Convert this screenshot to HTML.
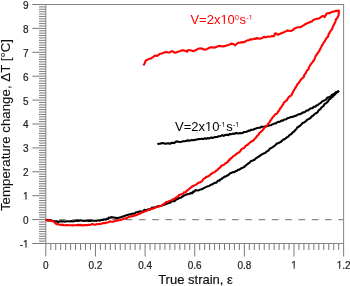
<!DOCTYPE html>
<html><head><meta charset="utf-8"><style>
html,body{margin:0;padding:0;background:#fff;}
svg{display:block;will-change:transform;}
text{font-family:"Liberation Sans",sans-serif;}
.tl{font-size:10px;fill:#222;stroke:#222;stroke-width:0.2px;}
.al{font-size:13px;fill:#111;stroke:#111;stroke-width:0.2px;}
.yl{font-size:13.3px;fill:#111;stroke:#111;stroke-width:0.1px;}
.an{font-size:13px;}
.sup{font-size:7px;}
.sup0{font-size:7.6px;}
</style></head><body>
<svg width="350" height="286" viewBox="0 0 350 286">
<line x1="32.3" y1="243.50" x2="45.8" y2="243.50" stroke="#7a7a7a" stroke-width="1"/>
<line x1="39" y1="241.11" x2="45.8" y2="241.11" stroke="#7a7a7a" stroke-width="1"/>
<line x1="39" y1="238.72" x2="45.8" y2="238.72" stroke="#7a7a7a" stroke-width="1"/>
<line x1="39" y1="236.33" x2="45.8" y2="236.33" stroke="#7a7a7a" stroke-width="1"/>
<line x1="39" y1="233.94" x2="45.8" y2="233.94" stroke="#7a7a7a" stroke-width="1"/>
<line x1="39" y1="231.55" x2="45.8" y2="231.55" stroke="#7a7a7a" stroke-width="1"/>
<line x1="39" y1="229.16" x2="45.8" y2="229.16" stroke="#7a7a7a" stroke-width="1"/>
<line x1="39" y1="226.77" x2="45.8" y2="226.77" stroke="#7a7a7a" stroke-width="1"/>
<line x1="39" y1="224.38" x2="45.8" y2="224.38" stroke="#7a7a7a" stroke-width="1"/>
<line x1="39" y1="221.99" x2="45.8" y2="221.99" stroke="#7a7a7a" stroke-width="1"/>
<line x1="32.3" y1="219.60" x2="45.8" y2="219.60" stroke="#7a7a7a" stroke-width="1"/>
<line x1="39" y1="217.21" x2="45.8" y2="217.21" stroke="#7a7a7a" stroke-width="1"/>
<line x1="39" y1="214.82" x2="45.8" y2="214.82" stroke="#7a7a7a" stroke-width="1"/>
<line x1="39" y1="212.43" x2="45.8" y2="212.43" stroke="#7a7a7a" stroke-width="1"/>
<line x1="39" y1="210.04" x2="45.8" y2="210.04" stroke="#7a7a7a" stroke-width="1"/>
<line x1="39" y1="207.65" x2="45.8" y2="207.65" stroke="#7a7a7a" stroke-width="1"/>
<line x1="39" y1="205.26" x2="45.8" y2="205.26" stroke="#7a7a7a" stroke-width="1"/>
<line x1="39" y1="202.87" x2="45.8" y2="202.87" stroke="#7a7a7a" stroke-width="1"/>
<line x1="39" y1="200.48" x2="45.8" y2="200.48" stroke="#7a7a7a" stroke-width="1"/>
<line x1="39" y1="198.09" x2="45.8" y2="198.09" stroke="#7a7a7a" stroke-width="1"/>
<line x1="32.3" y1="195.70" x2="45.8" y2="195.70" stroke="#7a7a7a" stroke-width="1"/>
<line x1="39" y1="193.31" x2="45.8" y2="193.31" stroke="#7a7a7a" stroke-width="1"/>
<line x1="39" y1="190.92" x2="45.8" y2="190.92" stroke="#7a7a7a" stroke-width="1"/>
<line x1="39" y1="188.53" x2="45.8" y2="188.53" stroke="#7a7a7a" stroke-width="1"/>
<line x1="39" y1="186.14" x2="45.8" y2="186.14" stroke="#7a7a7a" stroke-width="1"/>
<line x1="39" y1="183.75" x2="45.8" y2="183.75" stroke="#7a7a7a" stroke-width="1"/>
<line x1="39" y1="181.36" x2="45.8" y2="181.36" stroke="#7a7a7a" stroke-width="1"/>
<line x1="39" y1="178.97" x2="45.8" y2="178.97" stroke="#7a7a7a" stroke-width="1"/>
<line x1="39" y1="176.58" x2="45.8" y2="176.58" stroke="#7a7a7a" stroke-width="1"/>
<line x1="39" y1="174.19" x2="45.8" y2="174.19" stroke="#7a7a7a" stroke-width="1"/>
<line x1="32.3" y1="171.80" x2="45.8" y2="171.80" stroke="#7a7a7a" stroke-width="1"/>
<line x1="39" y1="169.41" x2="45.8" y2="169.41" stroke="#7a7a7a" stroke-width="1"/>
<line x1="39" y1="167.02" x2="45.8" y2="167.02" stroke="#7a7a7a" stroke-width="1"/>
<line x1="39" y1="164.63" x2="45.8" y2="164.63" stroke="#7a7a7a" stroke-width="1"/>
<line x1="39" y1="162.24" x2="45.8" y2="162.24" stroke="#7a7a7a" stroke-width="1"/>
<line x1="39" y1="159.85" x2="45.8" y2="159.85" stroke="#7a7a7a" stroke-width="1"/>
<line x1="39" y1="157.46" x2="45.8" y2="157.46" stroke="#7a7a7a" stroke-width="1"/>
<line x1="39" y1="155.07" x2="45.8" y2="155.07" stroke="#7a7a7a" stroke-width="1"/>
<line x1="39" y1="152.68" x2="45.8" y2="152.68" stroke="#7a7a7a" stroke-width="1"/>
<line x1="39" y1="150.29" x2="45.8" y2="150.29" stroke="#7a7a7a" stroke-width="1"/>
<line x1="32.3" y1="147.90" x2="45.8" y2="147.90" stroke="#7a7a7a" stroke-width="1"/>
<line x1="39" y1="145.51" x2="45.8" y2="145.51" stroke="#7a7a7a" stroke-width="1"/>
<line x1="39" y1="143.12" x2="45.8" y2="143.12" stroke="#7a7a7a" stroke-width="1"/>
<line x1="39" y1="140.73" x2="45.8" y2="140.73" stroke="#7a7a7a" stroke-width="1"/>
<line x1="39" y1="138.34" x2="45.8" y2="138.34" stroke="#7a7a7a" stroke-width="1"/>
<line x1="39" y1="135.95" x2="45.8" y2="135.95" stroke="#7a7a7a" stroke-width="1"/>
<line x1="39" y1="133.56" x2="45.8" y2="133.56" stroke="#7a7a7a" stroke-width="1"/>
<line x1="39" y1="131.17" x2="45.8" y2="131.17" stroke="#7a7a7a" stroke-width="1"/>
<line x1="39" y1="128.78" x2="45.8" y2="128.78" stroke="#7a7a7a" stroke-width="1"/>
<line x1="39" y1="126.39" x2="45.8" y2="126.39" stroke="#7a7a7a" stroke-width="1"/>
<line x1="32.3" y1="124.00" x2="45.8" y2="124.00" stroke="#7a7a7a" stroke-width="1"/>
<line x1="39" y1="121.61" x2="45.8" y2="121.61" stroke="#7a7a7a" stroke-width="1"/>
<line x1="39" y1="119.22" x2="45.8" y2="119.22" stroke="#7a7a7a" stroke-width="1"/>
<line x1="39" y1="116.83" x2="45.8" y2="116.83" stroke="#7a7a7a" stroke-width="1"/>
<line x1="39" y1="114.44" x2="45.8" y2="114.44" stroke="#7a7a7a" stroke-width="1"/>
<line x1="39" y1="112.05" x2="45.8" y2="112.05" stroke="#7a7a7a" stroke-width="1"/>
<line x1="39" y1="109.66" x2="45.8" y2="109.66" stroke="#7a7a7a" stroke-width="1"/>
<line x1="39" y1="107.27" x2="45.8" y2="107.27" stroke="#7a7a7a" stroke-width="1"/>
<line x1="39" y1="104.88" x2="45.8" y2="104.88" stroke="#7a7a7a" stroke-width="1"/>
<line x1="39" y1="102.49" x2="45.8" y2="102.49" stroke="#7a7a7a" stroke-width="1"/>
<line x1="32.3" y1="100.10" x2="45.8" y2="100.10" stroke="#7a7a7a" stroke-width="1"/>
<line x1="39" y1="97.71" x2="45.8" y2="97.71" stroke="#7a7a7a" stroke-width="1"/>
<line x1="39" y1="95.32" x2="45.8" y2="95.32" stroke="#7a7a7a" stroke-width="1"/>
<line x1="39" y1="92.93" x2="45.8" y2="92.93" stroke="#7a7a7a" stroke-width="1"/>
<line x1="39" y1="90.54" x2="45.8" y2="90.54" stroke="#7a7a7a" stroke-width="1"/>
<line x1="39" y1="88.15" x2="45.8" y2="88.15" stroke="#7a7a7a" stroke-width="1"/>
<line x1="39" y1="85.76" x2="45.8" y2="85.76" stroke="#7a7a7a" stroke-width="1"/>
<line x1="39" y1="83.37" x2="45.8" y2="83.37" stroke="#7a7a7a" stroke-width="1"/>
<line x1="39" y1="80.98" x2="45.8" y2="80.98" stroke="#7a7a7a" stroke-width="1"/>
<line x1="39" y1="78.59" x2="45.8" y2="78.59" stroke="#7a7a7a" stroke-width="1"/>
<line x1="32.3" y1="76.20" x2="45.8" y2="76.20" stroke="#7a7a7a" stroke-width="1"/>
<line x1="39" y1="73.81" x2="45.8" y2="73.81" stroke="#7a7a7a" stroke-width="1"/>
<line x1="39" y1="71.42" x2="45.8" y2="71.42" stroke="#7a7a7a" stroke-width="1"/>
<line x1="39" y1="69.03" x2="45.8" y2="69.03" stroke="#7a7a7a" stroke-width="1"/>
<line x1="39" y1="66.64" x2="45.8" y2="66.64" stroke="#7a7a7a" stroke-width="1"/>
<line x1="39" y1="64.25" x2="45.8" y2="64.25" stroke="#7a7a7a" stroke-width="1"/>
<line x1="39" y1="61.86" x2="45.8" y2="61.86" stroke="#7a7a7a" stroke-width="1"/>
<line x1="39" y1="59.47" x2="45.8" y2="59.47" stroke="#7a7a7a" stroke-width="1"/>
<line x1="39" y1="57.08" x2="45.8" y2="57.08" stroke="#7a7a7a" stroke-width="1"/>
<line x1="39" y1="54.69" x2="45.8" y2="54.69" stroke="#7a7a7a" stroke-width="1"/>
<line x1="32.3" y1="52.30" x2="45.8" y2="52.30" stroke="#7a7a7a" stroke-width="1"/>
<line x1="39" y1="49.91" x2="45.8" y2="49.91" stroke="#7a7a7a" stroke-width="1"/>
<line x1="39" y1="47.52" x2="45.8" y2="47.52" stroke="#7a7a7a" stroke-width="1"/>
<line x1="39" y1="45.13" x2="45.8" y2="45.13" stroke="#7a7a7a" stroke-width="1"/>
<line x1="39" y1="42.74" x2="45.8" y2="42.74" stroke="#7a7a7a" stroke-width="1"/>
<line x1="39" y1="40.35" x2="45.8" y2="40.35" stroke="#7a7a7a" stroke-width="1"/>
<line x1="39" y1="37.96" x2="45.8" y2="37.96" stroke="#7a7a7a" stroke-width="1"/>
<line x1="39" y1="35.57" x2="45.8" y2="35.57" stroke="#7a7a7a" stroke-width="1"/>
<line x1="39" y1="33.18" x2="45.8" y2="33.18" stroke="#7a7a7a" stroke-width="1"/>
<line x1="39" y1="30.79" x2="45.8" y2="30.79" stroke="#7a7a7a" stroke-width="1"/>
<line x1="32.3" y1="28.40" x2="45.8" y2="28.40" stroke="#7a7a7a" stroke-width="1"/>
<line x1="39" y1="26.01" x2="45.8" y2="26.01" stroke="#7a7a7a" stroke-width="1"/>
<line x1="39" y1="23.62" x2="45.8" y2="23.62" stroke="#7a7a7a" stroke-width="1"/>
<line x1="39" y1="21.23" x2="45.8" y2="21.23" stroke="#7a7a7a" stroke-width="1"/>
<line x1="39" y1="18.84" x2="45.8" y2="18.84" stroke="#7a7a7a" stroke-width="1"/>
<line x1="39" y1="16.45" x2="45.8" y2="16.45" stroke="#7a7a7a" stroke-width="1"/>
<line x1="39" y1="14.06" x2="45.8" y2="14.06" stroke="#7a7a7a" stroke-width="1"/>
<line x1="39" y1="11.67" x2="45.8" y2="11.67" stroke="#7a7a7a" stroke-width="1"/>
<line x1="39" y1="9.28" x2="45.8" y2="9.28" stroke="#7a7a7a" stroke-width="1"/>
<line x1="39" y1="6.89" x2="45.8" y2="6.89" stroke="#7a7a7a" stroke-width="1"/>
<line x1="32.3" y1="4.50" x2="45.8" y2="4.50" stroke="#7a7a7a" stroke-width="1"/>
<line x1="45.80" y1="243.5" x2="45.80" y2="256.5" stroke="#7a7a7a" stroke-width="1"/>
<line x1="50.76" y1="243.5" x2="50.76" y2="250" stroke="#7a7a7a" stroke-width="1"/>
<line x1="55.73" y1="243.5" x2="55.73" y2="250" stroke="#7a7a7a" stroke-width="1"/>
<line x1="60.69" y1="243.5" x2="60.69" y2="250" stroke="#7a7a7a" stroke-width="1"/>
<line x1="65.66" y1="243.5" x2="65.66" y2="250" stroke="#7a7a7a" stroke-width="1"/>
<line x1="70.62" y1="243.5" x2="70.62" y2="250" stroke="#7a7a7a" stroke-width="1"/>
<line x1="75.58" y1="243.5" x2="75.58" y2="250" stroke="#7a7a7a" stroke-width="1"/>
<line x1="80.55" y1="243.5" x2="80.55" y2="250" stroke="#7a7a7a" stroke-width="1"/>
<line x1="85.51" y1="243.5" x2="85.51" y2="250" stroke="#7a7a7a" stroke-width="1"/>
<line x1="90.48" y1="243.5" x2="90.48" y2="250" stroke="#7a7a7a" stroke-width="1"/>
<line x1="95.44" y1="243.5" x2="95.44" y2="256.5" stroke="#7a7a7a" stroke-width="1"/>
<line x1="100.40" y1="243.5" x2="100.40" y2="250" stroke="#7a7a7a" stroke-width="1"/>
<line x1="105.37" y1="243.5" x2="105.37" y2="250" stroke="#7a7a7a" stroke-width="1"/>
<line x1="110.33" y1="243.5" x2="110.33" y2="250" stroke="#7a7a7a" stroke-width="1"/>
<line x1="115.30" y1="243.5" x2="115.30" y2="250" stroke="#7a7a7a" stroke-width="1"/>
<line x1="120.26" y1="243.5" x2="120.26" y2="250" stroke="#7a7a7a" stroke-width="1"/>
<line x1="125.22" y1="243.5" x2="125.22" y2="250" stroke="#7a7a7a" stroke-width="1"/>
<line x1="130.19" y1="243.5" x2="130.19" y2="250" stroke="#7a7a7a" stroke-width="1"/>
<line x1="135.15" y1="243.5" x2="135.15" y2="250" stroke="#7a7a7a" stroke-width="1"/>
<line x1="140.12" y1="243.5" x2="140.12" y2="250" stroke="#7a7a7a" stroke-width="1"/>
<line x1="145.08" y1="243.5" x2="145.08" y2="256.5" stroke="#7a7a7a" stroke-width="1"/>
<line x1="150.04" y1="243.5" x2="150.04" y2="250" stroke="#7a7a7a" stroke-width="1"/>
<line x1="155.01" y1="243.5" x2="155.01" y2="250" stroke="#7a7a7a" stroke-width="1"/>
<line x1="159.97" y1="243.5" x2="159.97" y2="250" stroke="#7a7a7a" stroke-width="1"/>
<line x1="164.94" y1="243.5" x2="164.94" y2="250" stroke="#7a7a7a" stroke-width="1"/>
<line x1="169.90" y1="243.5" x2="169.90" y2="250" stroke="#7a7a7a" stroke-width="1"/>
<line x1="174.86" y1="243.5" x2="174.86" y2="250" stroke="#7a7a7a" stroke-width="1"/>
<line x1="179.83" y1="243.5" x2="179.83" y2="250" stroke="#7a7a7a" stroke-width="1"/>
<line x1="184.79" y1="243.5" x2="184.79" y2="250" stroke="#7a7a7a" stroke-width="1"/>
<line x1="189.76" y1="243.5" x2="189.76" y2="250" stroke="#7a7a7a" stroke-width="1"/>
<line x1="194.72" y1="243.5" x2="194.72" y2="256.5" stroke="#7a7a7a" stroke-width="1"/>
<line x1="199.68" y1="243.5" x2="199.68" y2="250" stroke="#7a7a7a" stroke-width="1"/>
<line x1="204.65" y1="243.5" x2="204.65" y2="250" stroke="#7a7a7a" stroke-width="1"/>
<line x1="209.61" y1="243.5" x2="209.61" y2="250" stroke="#7a7a7a" stroke-width="1"/>
<line x1="214.58" y1="243.5" x2="214.58" y2="250" stroke="#7a7a7a" stroke-width="1"/>
<line x1="219.54" y1="243.5" x2="219.54" y2="250" stroke="#7a7a7a" stroke-width="1"/>
<line x1="224.50" y1="243.5" x2="224.50" y2="250" stroke="#7a7a7a" stroke-width="1"/>
<line x1="229.47" y1="243.5" x2="229.47" y2="250" stroke="#7a7a7a" stroke-width="1"/>
<line x1="234.43" y1="243.5" x2="234.43" y2="250" stroke="#7a7a7a" stroke-width="1"/>
<line x1="239.40" y1="243.5" x2="239.40" y2="250" stroke="#7a7a7a" stroke-width="1"/>
<line x1="244.36" y1="243.5" x2="244.36" y2="256.5" stroke="#7a7a7a" stroke-width="1"/>
<line x1="249.32" y1="243.5" x2="249.32" y2="250" stroke="#7a7a7a" stroke-width="1"/>
<line x1="254.29" y1="243.5" x2="254.29" y2="250" stroke="#7a7a7a" stroke-width="1"/>
<line x1="259.25" y1="243.5" x2="259.25" y2="250" stroke="#7a7a7a" stroke-width="1"/>
<line x1="264.22" y1="243.5" x2="264.22" y2="250" stroke="#7a7a7a" stroke-width="1"/>
<line x1="269.18" y1="243.5" x2="269.18" y2="250" stroke="#7a7a7a" stroke-width="1"/>
<line x1="274.14" y1="243.5" x2="274.14" y2="250" stroke="#7a7a7a" stroke-width="1"/>
<line x1="279.11" y1="243.5" x2="279.11" y2="250" stroke="#7a7a7a" stroke-width="1"/>
<line x1="284.07" y1="243.5" x2="284.07" y2="250" stroke="#7a7a7a" stroke-width="1"/>
<line x1="289.04" y1="243.5" x2="289.04" y2="250" stroke="#7a7a7a" stroke-width="1"/>
<line x1="294.00" y1="243.5" x2="294.00" y2="256.5" stroke="#7a7a7a" stroke-width="1"/>
<line x1="298.96" y1="243.5" x2="298.96" y2="250" stroke="#7a7a7a" stroke-width="1"/>
<line x1="303.93" y1="243.5" x2="303.93" y2="250" stroke="#7a7a7a" stroke-width="1"/>
<line x1="308.89" y1="243.5" x2="308.89" y2="250" stroke="#7a7a7a" stroke-width="1"/>
<line x1="313.86" y1="243.5" x2="313.86" y2="250" stroke="#7a7a7a" stroke-width="1"/>
<line x1="318.82" y1="243.5" x2="318.82" y2="250" stroke="#7a7a7a" stroke-width="1"/>
<line x1="323.78" y1="243.5" x2="323.78" y2="250" stroke="#7a7a7a" stroke-width="1"/>
<line x1="328.75" y1="243.5" x2="328.75" y2="250" stroke="#7a7a7a" stroke-width="1"/>
<line x1="333.71" y1="243.5" x2="333.71" y2="250" stroke="#7a7a7a" stroke-width="1"/>
<line x1="338.68" y1="243.5" x2="338.68" y2="250" stroke="#7a7a7a" stroke-width="1"/>
<line x1="343.64" y1="243.5" x2="343.64" y2="256.5" stroke="#7a7a7a" stroke-width="1"/>
<rect x="45.8" y="4.5" width="297.80" height="239.00" fill="none" stroke="#838383" stroke-width="1"/>
<line x1="45.80" y1="219.60" x2="343.64" y2="219.60" stroke="#8a8a8a" stroke-width="1.2" stroke-dasharray="6.65 6.65"/>
<polyline points="45.7,219.7 47.0,219.9 48.2,220.5 49.6,220.0 50.9,220.5 52.3,221.1 53.9,221.0 55.4,221.4 56.8,221.3 58.2,222.0 59.7,221.4 61.1,221.4 62.5,221.3 64.0,221.5 65.5,221.6 66.9,221.2 68.3,221.2 69.7,221.5 71.2,221.1 72.6,221.4 74.0,221.2 75.4,221.0 76.8,220.6 78.3,220.9 79.7,220.4 81.2,220.4 82.6,220.8 84.0,220.9 85.5,220.8 87.1,220.8 88.6,220.9 90.0,220.9 91.3,220.4 92.6,220.8 94.0,220.8 95.2,220.8 96.4,220.9 97.6,220.4 98.8,220.5 100.0,220.6 101.3,219.8 102.8,220.0 104.2,219.3 105.7,219.7 106.7,218.8 108.1,219.0 108.8,217.5 110.4,217.8 111.4,217.1 112.8,217.4 114.3,217.5 115.7,217.9 117.1,218.0 118.6,217.8 120.1,217.6 121.4,216.9 122.9,216.6 125.0,215.8 126.2,215.3 127.5,215.0 128.7,214.5 130.0,214.5 131.2,214.1 132.4,213.6 133.8,213.8 135.0,213.1 136.1,212.2 137.5,212.1 138.8,211.9 140.0,211.2 141.4,211.5 143.1,211.6 144.3,209.9 146.0,210.2 147.2,209.7 148.5,209.2 150.0,209.5 151.1,208.6 152.1,207.6 153.6,208.1 154.7,207.2 156.0,207.0 157.3,206.6 158.6,206.1 160.0,206.0 161.5,205.8 162.8,204.9 164.4,204.8 165.8,204.1 167.3,203.6 168.7,202.9 170.4,202.8 171.4,201.1 173.1,201.2 174.4,201.1 175.4,200.4 176.3,199.4 177.5,199.0 178.6,198.5 179.6,197.8 181.0,197.8 181.9,196.8 183.0,196.3 184.0,195.6 185.1,195.1 186.2,194.6 187.5,194.2 188.7,193.9 190.0,193.7 191.0,192.9 192.5,193.2 193.1,191.6 194.4,191.6 195.5,190.1 197.3,190.6 198.7,190.2 200.2,189.6 201.7,189.2 203.1,188.5 204.2,187.9 205.3,187.4 206.4,186.9 207.5,186.3 209.1,186.0 210.4,185.0 211.9,184.5 213.4,183.6 215.0,182.8 216.4,182.6 217.2,181.6 218.0,180.5 219.5,180.7 220.2,179.4 221.5,179.0 222.4,178.0 223.7,177.5 224.6,176.6 225.9,176.5 226.9,175.6 228.1,175.3 229.1,174.2 230.2,173.3 231.6,172.7 232.9,172.1 234.4,172.1 235.5,171.2 236.9,170.9 237.8,169.9 239.2,169.8 240.1,169.0 241.2,168.3 242.6,167.8 243.9,167.1 245.0,166.1 246.4,165.0 247.8,163.9 248.8,163.1 249.9,162.3 250.7,161.2 252.0,160.7 253.3,160.2 254.5,159.7 255.5,158.6 256.7,157.9 257.8,157.1 259.0,156.5 260.1,155.6 261.2,154.7 262.5,154.1 263.7,153.4 265.0,153.1 265.9,152.3 266.9,151.4 268.0,150.9 269.1,149.8 270.0,148.5 271.5,147.9 272.7,147.2 273.8,146.3 275.0,145.5 276.0,144.4 277.0,143.4 278.5,143.2 279.7,142.4 281.0,141.8 282.0,140.7 283.1,139.8 284.3,139.2 285.5,138.6 286.6,137.5 288.0,136.9 289.0,135.8 289.8,134.7 291.2,134.3 292.0,133.2 292.9,132.2 294.2,131.5 295.0,130.3 295.9,129.5 296.7,128.6 297.3,127.5 298.4,126.9 299.3,126.1 300.4,125.5 301.2,124.6 302.0,123.7 302.9,122.8 304.1,122.4 305.2,121.8 306.0,120.9 306.9,120.1 307.9,119.4 309.0,118.8 310.2,118.2 311.1,117.3 311.8,116.2 313.1,115.7 313.9,114.7 314.9,113.8 316.0,113.2 317.2,112.6 318.0,111.6 318.5,110.4 319.6,109.7 320.6,108.9 321.2,107.7 322.2,107.0 323.3,106.2 324.0,105.2 324.6,103.9 326.0,103.3 327.0,102.5 327.9,101.5 328.7,100.4 329.3,99.2 330.5,98.7 331.2,97.6 332.3,97.0 333.1,96.0 334.3,95.1 335.3,94.0 336.2,92.8 337.5,92.0 338.9,90.7" fill="none" stroke="#000" stroke-width="2.1" stroke-linejoin="round"/>
<polyline points="157.4,144.2 158.7,143.7 160.1,143.8 161.4,143.2 162.8,143.0 164.2,143.5 165.7,143.6 167.1,143.5 168.5,143.2 170.1,143.8 171.5,142.9 172.9,142.7 174.4,143.1 175.7,141.7 177.1,141.4 178.6,141.8 180.1,142.0 181.5,141.7 182.9,141.3 184.3,141.3 185.7,141.1 187.1,140.4 188.6,140.6 190.0,140.6 191.2,140.1 192.5,140.1 193.8,140.3 195.0,139.8 196.3,139.7 197.5,139.2 198.7,139.1 200.0,139.0 201.3,138.9 202.5,138.7 203.8,139.0 205.0,138.2 206.3,138.9 207.5,138.0 208.8,138.4 210.0,138.0 211.2,137.5 212.6,138.0 213.8,137.4 215.0,137.1 216.3,137.0 217.5,136.9 218.7,136.2 220.0,136.2 221.2,135.7 222.3,135.1 223.7,135.9 224.8,135.1 226.0,134.9 227.3,134.8 228.6,135.2 229.6,133.9 230.9,134.2 232.1,133.9 233.4,133.6 234.7,133.8 236.0,133.0 237.4,133.2 238.7,133.5 240.0,133.1 241.4,133.3 242.7,133.0 243.8,132.0 245.2,132.0 246.4,131.7 247.6,131.3 248.7,130.6 250.0,130.7 251.3,129.7 253.0,129.8 254.4,129.0 255.9,128.6 257.3,128.1 258.7,127.7 260.2,127.7 261.6,126.7 263.1,126.7 264.6,126.6 266.0,126.2 267.5,125.9 268.8,125.5 270.2,125.2 271.4,124.9 272.5,124.3 273.6,123.9 274.8,123.4 276.1,123.4 277.0,122.4 278.1,121.9 279.4,121.9 280.5,121.3 281.5,120.6 282.8,120.6 283.8,119.7 285.0,119.5 286.3,119.3 287.3,118.3 288.5,117.9 289.8,117.6 291.0,117.0 292.4,116.9 293.7,116.5 295.0,115.9 296.3,115.7 297.3,114.9 298.4,114.3 299.7,114.3 300.9,113.7 302.0,113.2 303.0,112.4 304.5,112.3 305.5,111.5 306.5,110.6 307.9,110.4 309.0,109.7 310.0,108.8 311.2,108.3 312.6,108.1 313.5,106.9 314.8,106.8 316.0,106.2 316.8,105.2 318.1,105.0 318.9,103.9 320.0,103.4 321.1,102.7 321.9,101.5 323.2,101.1 324.4,100.4 325.6,99.9 326.6,99.0 327.3,97.6 328.7,97.3 330.0,96.8 331.1,96.0 331.9,94.9 333.1,94.2 334.5,93.9 335.3,92.5 336.6,92.1 337.9,91.7 338.9,90.7" fill="none" stroke="#000" stroke-width="2.1" stroke-linejoin="round"/>
<polyline points="45.7,219.7 46.9,220.4 48.2,220.7 49.7,220.3 50.9,220.9 52.8,220.9 54.3,222.0 55.4,223.2 56.6,224.3 58.2,224.1 59.6,224.7 61.1,224.9 62.6,224.6 64.0,225.3 65.4,225.3 66.9,225.1 68.3,225.3 69.7,225.3 71.2,225.3 72.6,225.4 74.0,225.2 75.5,225.3 76.9,225.1 78.3,224.9 79.7,225.1 81.2,224.9 82.6,225.6 84.0,225.1 85.5,225.1 87.1,225.3 88.6,224.7 90.0,225.0 91.3,224.3 92.6,224.0 94.0,224.4 95.2,224.7 96.4,224.1 97.6,224.2 98.8,224.0 100.0,224.0 101.4,223.8 102.8,223.1 104.3,223.1 105.7,222.9 107.1,222.5 108.5,222.3 109.8,221.3 111.4,221.7 112.9,221.7 114.3,221.3 115.6,220.5 117.1,220.8 118.2,220.3 119.4,220.2 120.6,220.0 121.7,219.5 122.9,219.2 125.0,218.4 126.4,218.4 127.5,217.6 128.7,216.9 130.0,216.8 131.2,216.3 132.6,216.3 133.7,215.6 135.0,215.4 136.4,215.1 137.7,214.6 138.9,214.0 140.2,213.6 141.4,212.8 142.5,212.3 143.7,211.9 144.8,211.4 146.0,211.1 147.1,210.5 148.1,209.9 149.4,209.7 150.5,209.2 151.6,208.7 152.9,208.7 154.5,208.0 156.0,207.3 157.4,207.0 158.6,206.4 160.0,206.1 161.3,205.8 162.3,205.0 163.5,204.4 164.4,203.5 165.4,202.8 166.3,202.0 167.7,202.0 168.7,201.3 169.8,200.9 171.0,200.4 172.1,199.8 173.1,199.2 174.4,198.9 175.3,197.8 176.5,197.4 177.5,196.6 178.5,195.7 179.3,194.7 180.7,194.5 181.9,194.0 183.2,193.8 183.8,192.4 185.3,192.5 186.2,191.6 187.0,190.6 188.0,189.8 189.1,189.0 190.0,188.1 191.1,187.5 192.0,186.5 193.3,186.1 194.4,185.4 195.5,184.9 196.7,184.3 197.5,183.3 198.7,182.8 200.1,182.3 201.2,181.6 202.4,180.8 203.1,179.4 204.0,178.4 205.3,178.1 206.1,176.9 207.5,176.7 208.7,176.0 209.8,175.3 210.6,174.2 211.9,173.7 212.7,172.7 214.0,172.5 215.0,171.8 216.4,170.6 217.6,169.9 218.4,168.7 219.6,167.9 220.7,167.1 221.3,165.7 222.8,165.2 224.0,164.6 225.1,163.7 226.2,162.9 227.6,162.3 228.2,160.8 229.5,160.2 229.8,158.8 231.3,158.4 232.0,157.4 233.0,156.4 234.3,155.7 235.4,154.9 236.4,153.9 237.6,153.2 238.8,152.5 239.9,151.6 240.7,150.4 241.5,149.1 242.9,148.4 244.4,147.9 245.1,146.5 246.1,145.5 247.5,145.0 248.4,143.9 249.5,143.0 250.7,142.0 252.0,141.2 253.5,140.5 254.4,139.0 255.7,138.0 256.6,136.6 257.5,135.5 258.7,134.7 259.2,133.2 260.5,132.4 261.2,131.3 262.5,130.6 263.1,129.5 264.0,128.5 264.6,127.4 265.8,126.9 266.6,125.9 267.5,124.8 268.3,123.5 269.6,122.3 270.2,120.6 271.3,119.7 271.9,118.4 272.7,117.3 273.7,116.3 274.5,115.3 275.4,114.3 276.7,113.7 277.6,112.7 278.1,111.4 279.2,110.6 279.7,109.4 280.2,108.3 281.3,107.4 281.7,106.2 282.5,105.2 283.4,104.1 283.8,102.6 285.0,101.8 285.8,100.8 287.0,100.2 287.6,99.0 288.2,97.8 288.9,96.8 290.0,96.1 291.2,95.5 291.9,94.4 292.4,93.2 293.0,92.0 293.6,90.8 294.4,89.7 294.8,88.5 295.7,87.5 296.4,86.3 297.0,85.3 297.4,84.1 298.4,83.3 299.1,82.3 299.9,81.4 300.4,80.3 301.1,79.3 302.1,78.5 303.0,77.6 304.0,76.7 304.1,75.3 304.7,74.2 305.7,73.3 306.2,72.1 306.7,70.9 307.6,70.0 308.7,69.1 308.7,67.6 309.5,66.5 310.2,65.3 310.9,64.1 311.7,63.1 312.5,62.0 313.3,61.0 314.2,60.0 314.6,58.8 315.1,57.6 315.4,56.3 316.4,55.4 316.8,54.2 317.7,53.2 318.4,51.9 319.4,50.8 319.9,49.5 320.6,48.2 321.3,46.9 321.9,45.5 322.8,44.3 323.5,43.0 324.4,41.7 325.3,40.4 325.8,39.0 326.7,37.9 327.8,36.9 328.4,35.5 328.6,34.0 329.5,33.0 330.0,31.7 330.9,30.6 331.9,29.6 332.3,28.2 332.8,27.0 333.3,25.7 334.0,24.6 334.6,23.3 335.2,22.1 335.7,20.9 335.9,19.4 337.0,18.5 337.6,17.2 338.4,15.7 338.8,14.1 338.7,12.8 339.4,11.7" fill="none" stroke="#f00" stroke-width="2.1" stroke-linejoin="round"/>
<polyline points="143.3,65.4 144.1,64.4 144.7,63.2 145.1,62.0 145.9,60.5 147.4,59.7 148.7,59.1 150.0,58.7 151.4,58.3 152.3,57.4 153.4,56.9 154.3,56.0 155.7,55.6 157.1,56.0 158.0,55.2 159.1,54.5 160.0,53.7 161.5,53.6 162.9,53.1 164.3,52.6 165.7,52.0 167.2,52.2 168.6,52.6 170.1,52.2 171.4,51.4 173.1,51.4 174.3,52.6 175.8,52.6 177.1,52.0 178.5,51.5 180.0,51.2 181.6,50.4 183.4,50.3 184.6,50.7 186.0,50.9 186.9,51.9 187.6,50.5 189.1,50.0 190.3,50.3 191.5,50.5 192.6,51.1 194.4,50.8 196.0,50.0 197.2,49.3 198.5,48.6 200.0,48.5 201.5,48.4 202.9,48.9 204.5,49.7 206.3,49.4 207.5,48.9 208.5,48.2 209.6,47.6 210.9,47.4 212.6,47.2 214.3,47.7 215.4,47.2 216.6,46.9 217.7,46.3 220.0,45.9 221.5,46.3 223.1,46.4 224.6,46.1 226.0,45.8 227.2,45.2 228.6,45.0 229.9,44.4 231.1,43.6 232.6,43.9 233.9,44.3 234.9,45.3 236.1,44.5 237.1,43.5 238.3,42.7 239.8,42.7 241.3,42.1 242.9,42.4 244.1,42.1 245.2,41.5 246.3,40.9 247.4,40.4 249.0,40.3 250.4,39.2 252.0,39.6 253.1,39.1 254.2,38.6 255.6,39.0 256.6,38.1 258.3,38.4 260.0,38.8 261.1,38.2 262.4,38.1 263.3,37.1 264.6,36.9 266.1,37.3 267.6,36.6 269.1,36.7 270.6,36.5 272.1,36.0 273.7,36.1 274.7,35.3 274.7,33.8 276.0,33.3 277.0,34.2 278.3,34.7 279.4,34.0 280.6,33.7 281.6,32.9 282.9,32.7 284.1,32.2 285.2,31.6 286.4,31.1 287.4,30.4 289.1,30.8 290.9,31.0 292.1,30.4 293.3,29.8 294.2,28.7 295.4,28.1 296.9,27.5 298.4,27.2 300.0,27.3 301.4,26.7 302.5,25.7 304.0,25.3 305.1,24.3 306.4,23.7 307.6,22.7 309.1,22.6 310.3,21.7 311.8,21.6 312.8,20.4 314.0,19.6 315.4,19.2 316.7,18.7 318.0,18.8 319.4,18.3 320.5,17.4 321.6,16.5 322.9,16.0 324.7,17.0 325.2,15.8 326.1,14.8 326.6,13.5 327.8,13.3 329.0,13.1 330.2,12.9 331.4,12.3 332.6,11.8 333.9,11.6 335.1,11.1 336.3,10.9 337.6,10.9 338.8,10.5 339.4,11.7" fill="none" stroke="#f00" stroke-width="2.1" stroke-linejoin="round"/>
<text x="28.6" y="247.90" text-anchor="end" class="tl">-1</text>
<text x="28.6" y="224.00" text-anchor="end" class="tl">0</text>
<text x="28.6" y="200.10" text-anchor="end" class="tl">1</text>
<text x="28.6" y="176.20" text-anchor="end" class="tl">2</text>
<text x="28.6" y="152.30" text-anchor="end" class="tl">3</text>
<text x="28.6" y="128.40" text-anchor="end" class="tl">4</text>
<text x="28.6" y="104.50" text-anchor="end" class="tl">5</text>
<text x="28.6" y="80.60" text-anchor="end" class="tl">6</text>
<text x="28.6" y="56.70" text-anchor="end" class="tl">7</text>
<text x="28.6" y="32.80" text-anchor="end" class="tl">8</text>
<text x="28.6" y="8.90" text-anchor="end" class="tl">9</text>
<text x="45.80" y="268.6" text-anchor="middle" class="tl">0</text>
<text x="95.44" y="268.6" text-anchor="middle" class="tl">0.2</text>
<text x="145.08" y="268.6" text-anchor="middle" class="tl">0.4</text>
<text x="194.72" y="268.6" text-anchor="middle" class="tl">0.6</text>
<text x="244.36" y="268.6" text-anchor="middle" class="tl">0.8</text>
<text x="294.00" y="268.6" text-anchor="middle" class="tl">1</text>
<text x="343.64" y="268.6" text-anchor="middle" class="tl">1.2</text>
<text x="195.5" y="283.6" text-anchor="middle" class="al">True strain, ε</text>
<text transform="translate(10.2,125) rotate(-90)" text-anchor="middle" class="yl">Temperature change, ΔT [°C]</text>
<text x="190.4" y="23.8" class="an" fill="#f00">V=2x10<tspan class="sup0" dx="-0.1" dy="-4.2">0</tspan><tspan dx="0.5" dy="4.2">s</tspan><tspan class="sup" dx="0.5" dy="-4">-1</tspan></text>
<text x="175" y="130.6" class="an" fill="#000">V=2x10<tspan class="sup" dx="-0.4" dy="-4">-1</tspan><tspan dx="0.9" dy="4">s</tspan><tspan class="sup" dx="0.2" dy="-4">-1</tspan></text>
<rect x="23.24" y="246.80" width="2.31" height="1.80" fill="#fff"/>
<rect x="26.43" y="246.80" width="2.23" height="1.80" fill="#fff"/>
<rect x="23.25" y="199.00" width="2.30" height="1.80" fill="#fff"/>
<rect x="26.44" y="199.00" width="2.23" height="1.80" fill="#fff"/>
<rect x="291.43" y="267.50" width="2.30" height="1.80" fill="#fff"/>
<rect x="294.62" y="267.50" width="2.23" height="1.80" fill="#fff"/>
<rect x="336.90" y="267.50" width="2.30" height="1.80" fill="#fff"/>
<rect x="340.09" y="267.50" width="2.23" height="1.80" fill="#fff"/>
<rect x="220.83" y="22.48" width="2.84" height="2.02" fill="#fff"/>
<rect x="224.81" y="22.48" width="2.73" height="2.02" fill="#fff"/>
<rect x="248.80" y="18.93" width="1.78" height="1.57" fill="#fff"/>
<rect x="251.20" y="18.93" width="1.73" height="1.57" fill="#fff"/>
<rect x="205.43" y="129.28" width="2.84" height="2.02" fill="#fff"/>
<rect x="209.41" y="129.28" width="2.73" height="2.02" fill="#fff"/>
<rect x="221.37" y="125.73" width="1.78" height="1.57" fill="#fff"/>
<rect x="223.77" y="125.73" width="1.73" height="1.57" fill="#fff"/>
<rect x="235.20" y="125.73" width="1.78" height="1.57" fill="#fff"/>
<rect x="237.60" y="125.73" width="1.73" height="1.57" fill="#fff"/>
</svg>
</body></html>
